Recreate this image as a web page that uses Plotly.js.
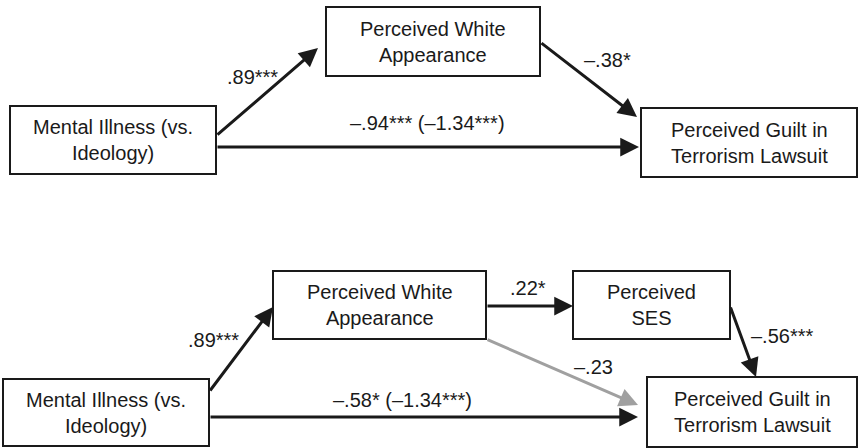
<!DOCTYPE html>
<html>
<head>
<meta charset="utf-8">
<script src="https://cdn.plot.ly/plotly-3.0.1.min.js"></script>
<style>html,body{margin:0;padding:0;background:#fff}#chart{width:858px;height:448px}</style>
</head>
<body>
<div id="chart"></div>
<script>
// ---- data ----
var nodeLabels = [
  "Mental Illness (vs.<br>Ideology)",
  "Perceived White<br>Appearance",
  "Perceived Guilt in<br>Terrorism Lawsuit",
  "Mental Illness (vs.<br>Ideology)",
  "Perceived White<br>Appearance",
  "Perceived<br>SES",
  "Perceived Guilt in<br>Terrorism Lawsuit"
];
var edgeFrom = [0, 1, 0, 3, 4, 5, 4, 3];
var edgeTo   = [1, 2, 2, 4, 5, 6, 6, 6];
var edgeLabels = [".89***", "\u2013.38*", "\u2013.94*** (\u20131.34***)",
                  ".89***", ".22*", "\u2013.56***", "\u2013.23", "\u2013.58* (\u20131.34***)"];
var edgeSignificant = [true, true, true, true, true, true, false, true];

// ---- layout geometry (pixels) ----
var boxes = [
  [10, 106, 216, 174],
  [326, 7, 540, 76],
  [641, 108, 857, 177],
  [3, 379, 209, 446],
  [273, 271, 486, 339],
  [573, 271, 730, 339],
  [647, 377, 857, 447]
];
// tail and head points for each edge
var edgePts = [
  [216, 136, 318, 48],
  [540, 42, 637, 117],
  [216, 147, 639, 147],
  [209, 392, 273, 307],
  [486, 306, 573, 306],
  [730, 306, 756, 377],
  [486, 339, 638, 405],
  [209, 417, 638, 417]
];
var labelPos = [
  [252, 77], [607, 60], [427, 123],
  [213, 340], [528, 288], [782, 336], [593, 367], [402, 400]
];

var font = {family: "Liberation Sans, Arial, sans-serif", size: 20, color: "#1a1a1a"};
var shapes = [], annotations = [];
boxes.forEach(function(b, i){
  shapes.push({type: "rect", xref: "x", yref: "y", x0: b[0], y0: b[1], x1: b[2], y1: b[3],
    line: {color: "#1a1a1a", width: 2}, fillcolor: "rgba(0,0,0,0)"});
  annotations.push({x: (b[0]+b[2])/2, y: (b[1]+b[3])/2, xref: "x", yref: "y",
    text: nodeLabels[i], showarrow: false, font: font, xanchor: "center", yanchor: "middle"});
});
edgeLabels.forEach(function(t, i){
  var p = edgePts[i];
  var col = edgeSignificant[i] ? "#1a1a1a" : "#a0a0a0";
  annotations.push({x: p[2], y: p[3], ax: p[0], ay: p[1], xref: "x", yref: "y", axref: "x", ayref: "y",
    text: "", showarrow: true, arrowhead: 2, arrowsize: 1.25, arrowwidth: 3, arrowcolor: col,
    standoff: 0, startstandoff: 0});
  annotations.push({x: labelPos[i][0], y: labelPos[i][1], xref: "x", yref: "y",
    text: t, showarrow: false, font: font, xanchor: "center", yanchor: "middle"});
});

var layout = {
  width: 858, height: 448,
  margin: {l: 0, r: 0, t: 0, b: 0},
  paper_bgcolor: "#fff", plot_bgcolor: "#fff",
  xaxis: {range: [0, 858], visible: false, fixedrange: true},
  yaxis: {range: [448, 0], visible: false, fixedrange: true},
  shapes: shapes, annotations: annotations, showlegend: false
};
Plotly.newPlot("chart", [], layout, {displayModeBar: false, staticPlot: true});
</script>
</body>
</html>
